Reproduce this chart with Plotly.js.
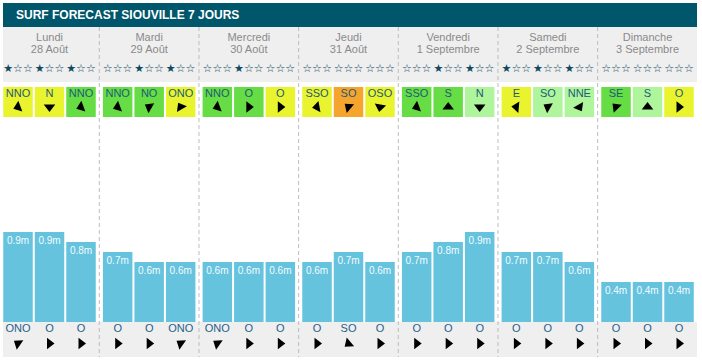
<!DOCTYPE html>
<html><head><meta charset="utf-8">
<script src="https://cdn.plot.ly/plotly-3.0.1.min.js"></script>
<style>html,body{margin:0;padding:0;background:#fff}#chart{width:702px;height:364px}</style>
</head><body><div id="chart"></div>
<script>
// ---------------- data ----------------
const chartTitle = 'SURF FORECAST SIOUVILLE 7 JOURS';
const days = ['Lundi','Mardi','Mercredi','Jeudi','Vendredi','Samedi','Dimanche'];
const dates = ['28 Août','29 Août','30 Août','31 Août','1 Septembre','2 Septembre','3 Septembre'];
// stars (0 or 1 filled out of 3), three periods per day
const stars = [1,1,1, 0,1,1, 0,1,0, 0,0,0, 0,1,1, 1,1,1, 0,0,0];
const windDir = ['NNO','N','NNO', 'NNO','NO','ONO', 'NNO','O','O', 'SSO','SO','OSO', 'SSO','S','N', 'E','SO','NNE', 'SE','S','O'];
// wind quality class: y = yellow, g = green, l = light green, o = orange
const windLevel = ['y','y','g', 'g','g','y', 'g','g','y', 'y','o','y', 'g','g','l', 'y','l','l', 'g','l','y'];
// arrow heading on screen (0 = up, clockwise)
const windArrowAngle = [250,180,250, 250,300,330, 250,90,90, 260,310,190, 250,0,180, 275,300,150, 315,0,90];
const waveHeight = [0.9,0.9,0.8, 0.7,0.6,0.6, 0.6,0.6,0.6, 0.6,0.7,0.6, 0.7,0.8,0.9, 0.7,0.7,0.6, 0.4,0.4,0.4];
const swellDir = ['ONO','O','O', 'O','O','ONO', 'ONO','O','O', 'O','SO','O', 'O','O','O', 'O','O','O', 'O','O','O'];
// swell arrow heading on screen (0 = up, clockwise)
const swellArrowAngle = [305,90,90, 90,90,305, 305,90,90, 90,230,90, 90,90,90, 90,90,90, 90,90,90];

// ---------------- layout helpers ----------------
const W = 702, H = 364, ZERO_PX = 322, PX_PER_M = 100;
const val = p => (ZERO_PX - p) / PX_PER_M;          // pixel row -> axis value
const dayCenter = i => 49.5 + 99.67 * i;
const slotX = k => dayCenter(Math.floor(k / 3)) + 31.5 * ((k % 3) - 1);
const idx = waveHeight.map((_, k) => k);
const xs = idx.map(slotX);
const levelColor = {y:'#e9f42f', g:'#66dd44', l:'#aef59b', o:'#f5a52e'};
const FONT = 'Liberation Sans, Arial, sans-serif';

const traces = [];
// wind boxes
traces.push({
  type:'bar', x: xs, y: idx.map(() => val(87) - val(117)), base: val(117),
  width: 29.5, marker:{color: windLevel.map(l => levelColor[l]), line:{width:0}},
  hoverinfo:'skip', showlegend:false
});
// wave heights
traces.push({
  type:'bar', x: xs, y: waveHeight, width: 29.5,
  marker:{color:'#65c3de', line:{width:0}},
  text: waveHeight.map(v => v + 'm'), textposition:'inside', insidetextanchor:'end',
  textangle:0, constraintext:'none',
  textfont:{family:FONT, size:10, color:'#f4fbff'},
  hoverinfo:'skip', showlegend:false
});
// wind labels
traces.push({
  type:'scatter', mode:'text', x: xs, y: idx.map(() => val(94.5)), text: windDir,
  textfont:{family:FONT, size:11, color:'#1d5a7a'}, hoverinfo:'skip', showlegend:false
});
// wind arrows
traces.push({
  type:'scatter', mode:'markers', x: xs, y: idx.map(() => val(107)),
  marker:{symbol:'triangle-up', size:10, angle: windArrowAngle, color:'#000', line:{width:0}},
  hoverinfo:'skip', showlegend:false
});
// stars
traces.push({
  type:'scatter', mode:'text', x: xs, y: idx.map(() => val(69)),
  text: stars.map(n => '★'.repeat(n) + '☆'.repeat(3 - n)),
  textfont:{family:'DejaVu Sans', size:11, color:'#0f4c63'}, hoverinfo:'skip', showlegend:false
});
// day names & dates
const dx = days.map((_, i) => dayCenter(i));
traces.push({
  type:'scatter', mode:'text', x: dx, y: dx.map(() => val(38)), text: days,
  textfont:{family:FONT, size:11, color:'#8a8a8a'}, hoverinfo:'skip', showlegend:false
});
traces.push({
  type:'scatter', mode:'text', x: dx, y: dx.map(() => val(50)), text: dates,
  textfont:{family:FONT, size:11, color:'#8a8a8a'}, hoverinfo:'skip', showlegend:false
});
// swell labels
traces.push({
  type:'scatter', mode:'text', x: xs, y: idx.map(() => val(329)), text: swellDir,
  textfont:{family:FONT, size:11, color:'#1f5f8b'}, hoverinfo:'skip', showlegend:false
});
// swell arrows
traces.push({
  type:'scatter', mode:'markers', x: xs, y: idx.map(() => val(343.5)),
  marker:{symbol:'triangle-up', size:10, angle: swellArrowAngle, color:'#000', line:{width:0}},
  hoverinfo:'skip', showlegend:false
});

const annotations = [{
  x: 14, y: val(15), xref:'x', yref:'y', xanchor:'left', yanchor:'middle',
  text:'<b>' + chartTitle + '</b>', showarrow:false,
  font:{family:FONT, size:12, color:'#ffffff'}
}];

const shapes = [
  {type:'rect', xref:'x', yref:'y', x0:3, x1:697, y0:val(3), y1:val(27), fillcolor:'#00566b', line:{width:0}, layer:'below'},
  {type:'rect', xref:'x', yref:'y', x0:3, x1:697, y0:val(27), y1:val(82), fillcolor:'#efefef', line:{width:0}, layer:'below'},
  {type:'rect', xref:'x', yref:'y', x0:3, x1:697, y0:val(322), y1:val(357), fillcolor:'#efefef', line:{width:0}, layer:'below'}
];
for (let i = 0; i < days.length - 1; i++) {
  const sx = dayCenter(i) + 49.8;
  shapes.push({type:'line', xref:'x', yref:'y', x0:sx, x1:sx, y0:val(27), y1:val(357),
    line:{color:'#bdbdbd', width:1, dash:'4px,3px'}, layer:'below'});
}

const layout = {
  width: W, height: H, margin:{l:0, r:0, t:0, b:0, pad:0},
  paper_bgcolor:'#ffffff', plot_bgcolor:'rgba(0,0,0,0)',
  barmode:'overlay', showlegend:false,
  xaxis:{range:[0, W], visible:false, fixedrange:true},
  yaxis:{range:[val(H), val(0)], visible:false, fixedrange:true},
  shapes: shapes, annotations: annotations
};
Plotly.newPlot('chart', traces, layout, {staticPlot:true, displayModeBar:false});
</script></body></html>
